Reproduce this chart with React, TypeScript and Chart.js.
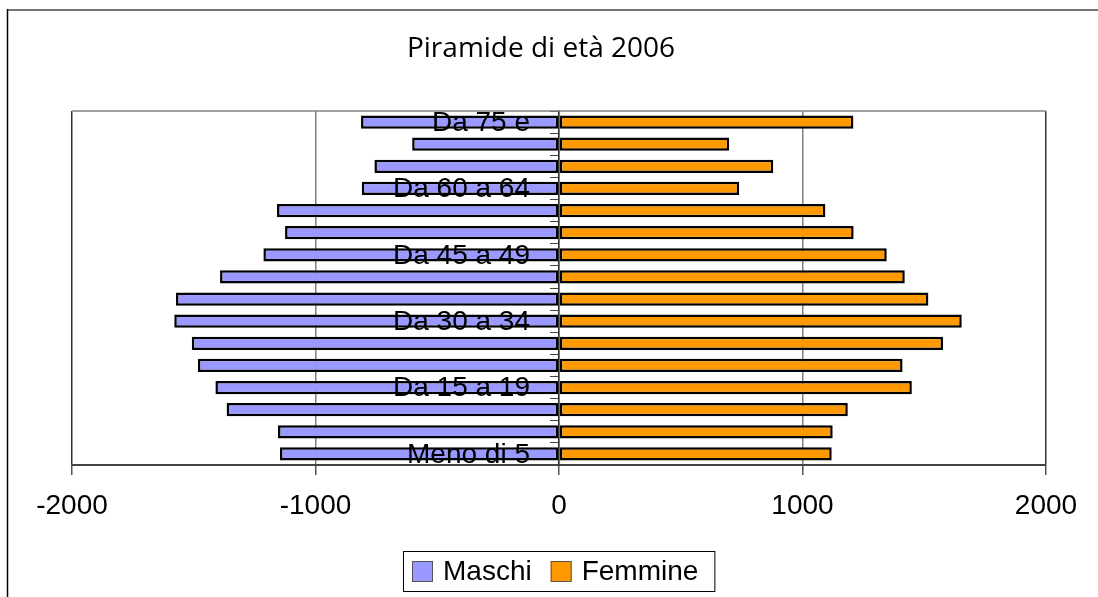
import React, { useEffect, useRef } from "react";
import { Chart, registerables } from "chart.js";

Chart.register(...registerables);

const categories = [
  "Da 75 e", "Da 70 a 74", "Da 65 a 69", "Da 60 a 64", "Da 55 a 59", "Da 50 a 54",
  "Da 45 a 49", "Da 40 a 44", "Da 35 a 39", "Da 30 a 34", "Da 25 a 29", "Da 20 a 24",
  "Da 15 a 19", "Da 10 a 14", "Da 5 a 9", "Meno di 5",
];
const maschi = [-813, -603, -758, -810, -1158, -1125, -1214, -1392, -1573, -1580, -1508, -1483, -1411, -1365, -1154, -1146];
const femmine = [1209, 699, 880, 740, 1094, 1210, 1346, 1420, 1517, 1654, 1577, 1411, 1449, 1186, 1124, 1120];
const xTicks = [-2000, -1000, 0, 1000, 2000];
const titleText = "Piramide di età 2006";

const ARIAL = "'Liberation Sans', Arial, sans-serif";

const framePlugin = {
  id: "frame",
  beforeDraw(chart: any) {
    const ctx = chart.ctx;
    ctx.save();
    ctx.fillStyle = "#ffffff";
    ctx.fillRect(0, 0, chart.width, chart.height);
    ctx.strokeStyle = "#777777";
    ctx.lineWidth = 2;
    ctx.beginPath();
    ctx.moveTo(7, 10);
    ctx.lineTo(chart.width, 10);
    ctx.stroke();
    ctx.strokeStyle = "#000000";
    ctx.lineWidth = 1.5;
    ctx.beginPath();
    ctx.moveTo(7.5, 9);
    ctx.lineTo(7.5, chart.height);
    ctx.stroke();
    // title
    ctx.fillStyle = "#000000";
    ctx.font = `28px 'Open Sans', sans-serif`;
    ctx.textAlign = "center";
    ctx.textBaseline = "middle";
    ctx.fillText(titleText, 541, 49);
    ctx.restore();
  },
  afterDatasetsDraw(chart: any) {
    const ctx = chart.ctx;
    const a = chart.chartArea;
    const xs = chart.scales.x;
    const ys = chart.scales.y;
    ctx.save();
    ctx.strokeStyle = "#808080";
    ctx.lineWidth = 1.5;
    ctx.beginPath();
    ctx.moveTo(a.left, a.top);
    ctx.lineTo(a.right, a.top);
    ctx.stroke();
    // category labels at the zero axis
    ctx.fillStyle = "#000000";
    ctx.font = `28px ${ARIAL}`;
    ctx.textAlign = "right";
    ctx.textBaseline = "middle";
    const x0 = xs.getPixelForValue(0);
    categories.forEach((c, i) => {
      if (i % 3 !== 0) return;
      ctx.fillText(c, x0 - 29, ys.getPixelForValue(i) + 1);
    });
    ctx.restore();
  },
  afterDraw(chart: any) {
    const ctx = chart.ctx;
    ctx.save();
    ctx.font = `28px ${ARIAL}`;
    const sw = 21;
    const items = chart.data.datasets.map((d: any) => ({
      text: d.label,
      color: d.backgroundColor,
      w: ctx.measureText(d.label).width,
    }));
    const padL = 9, gapSw = 10, gapItem = 19, padR = 16;
    let total = padL + padR;
    items.forEach((it: any, i: number) => {
      total += sw + gapSw + it.w + (i < items.length - 1 ? gapItem : 0);
    });
    const cx = chart.scales.x.getPixelForValue(0);
    const left = Math.round(cx - total / 2);
    const top = 551, h = 40;
    ctx.strokeStyle = "#000000";
    ctx.lineWidth = 1;
    ctx.strokeRect(left + 0.5, top + 0.5, total, h);
    let x = left + padL;
    const cy = top + h / 2 + 0.5;
    items.forEach((it: any) => {
      ctx.fillStyle = it.color;
      ctx.fillRect(x, cy - sw / 2, sw, sw);
      ctx.strokeStyle = "#555555";
      ctx.lineWidth = 1;
      ctx.strokeRect(x + 0.5, cy - sw / 2 + 0.5, sw - 1, sw - 1);
      x += sw + gapSw;
      ctx.fillStyle = "#000000";
      ctx.textBaseline = "middle";
      ctx.textAlign = "left";
      ctx.fillText(it.text, x, cy + 1);
      x += it.w + gapItem;
    });
    ctx.restore();
  },
};

export default function App() {
  const ref = useRef<HTMLCanvasElement | null>(null);
  useEffect(() => {
    if (!ref.current) return;
    const chart = new Chart(ref.current, {
      type: "bar",
      data: {
        labels: categories,
        datasets: [
          {
            label: "Maschi",
            data: maschi,
            backgroundColor: "#9999FF",
            borderColor: "#000000",
            borderWidth: 2.5,
            borderSkipped: false,
          },
          {
            label: "Femmine",
            data: femmine,
            backgroundColor: "#FF9900",
            borderColor: "#000000",
            borderWidth: 2.5,
            borderSkipped: false,
          },
        ],
      },
      options: {
        indexAxis: "y",
        animation: false,
        responsive: true,
        maintainAspectRatio: false,
        layout: { padding: { left: 72, right: 52, top: 111, bottom: 72 } },
        datasets: { bar: { barPercentage: 0.6, categoryPercentage: 1 } },
        plugins: {
          legend: { display: false },
          tooltip: { enabled: false },
          title: { display: false },
        },
        scales: {
          x: {
            type: "linear",
            min: xTicks[0],
            max: xTicks[xTicks.length - 1],
            stacked: true,
            afterBuildTicks(scale: any) {
              scale.ticks = xTicks.map((v) => ({ value: v }));
            },
            afterFit(scale: any) {
              scale.height = 60;
            },
            ticks: {
              color: "#000000",
              font: { family: ARIAL, size: 28 },
              padding: 14,
              maxRotation: 0,
              callback: (v: any) => String(v),
            },
            grid: {
              color: (c: any) => (c.tick && Math.abs(c.tick.value) === 2000 ? "#333333" : "#808080"),
              lineWidth: 1.5,
              tickLength: 10,
              tickColor: "#555555",
            },
            border: { display: true, color: "#444444", width: 2 },
          },
          y: {
            type: "category",
            position: { x: 0 },
            stacked: true,
            z: 1,
            ticks: {
              display: false,
              autoSkip: false,
            },
            grid: {
              drawOnChartArea: false,
              drawTicks: true,
              tickLength: 8,
              tickColor: "#444444",
              offset: true,
            },
            border: { display: true, color: "#333333", width: 1.5 },
          },
        },
      },
      plugins: [framePlugin],
    } as any);
    return () => chart.destroy();
  }, []);
  return (
    <div style={{ position: "fixed", left: 0, top: 0, width: 1098, height: 597, background: "#fff" }}>
      <canvas ref={ref} />
    </div>
  );
}
